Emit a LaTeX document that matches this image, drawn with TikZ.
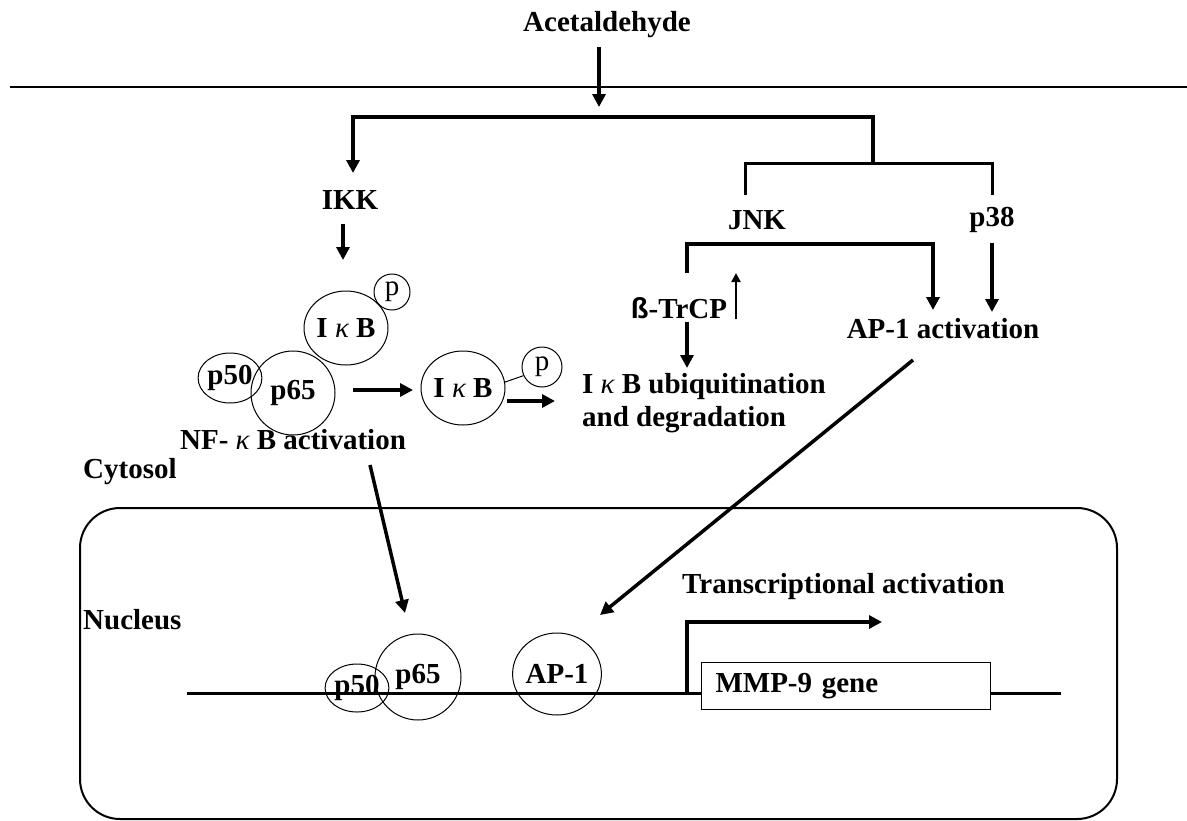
\documentclass[tikz,border=0pt]{standalone}
\usepackage{fontspec}
\setmainfont{Liberation Serif}
\newfontfamily\sansb{Liberation Sans}
\usetikzlibrary{arrows.meta,shapes.geometric}
\newcommand{\kap}{{\mdseries\itshape κ}}
\begin{document}
\begin{tikzpicture}[x=1pt,y=-1pt,
  font=\fontsize{29}{33}\selectfont\bfseries,
  every node/.style={inner sep=0pt},
  arr/.style={line width=3.5pt,-{Triangle[length=13pt,width=13pt]}},
  thinarr/.style={line width=2pt,-{Triangle[length=9pt,width=9pt]}},
  brk/.style={line width=3pt},
  circ/.style={draw,line width=1pt,ellipse,inner sep=0pt}]
\useasboundingbox (0,0) rectangle (1187,820);

% membrane
\draw[line width=1.7pt] (10,87) -- (1187,87);
% nucleus
\draw[line width=2pt,rounded corners=40pt] (80,508) rectangle (1117,819);

% labels
\node (acet) at (607,25) {Acetaldehyde};
\node (ikk) at (350,200) {IKK};
\node (jnk) at (757,220) {JNK};
\node (p38) at (992,220) {p38};
\node (btrcp) at (679,308) {{\sansb ß}-TrCP};
\node[anchor=west] (ubiq) at (582,387) {I \kap\ B ubiquitination};
\node[anchor=west] (ubiq2) at (582,420) {and degradation};
\node (apact) at (943,329) {AP-1 activation};
\node (nfkb) at (293,440) {NF- \kap\ B activation};
\node[anchor=west] (cyto) at (83,472) {Cytosol};
\node[anchor=west] (nucl) at (83,620) {Nucleus};
\node[anchor=west] (transc) at (682,587) {Transcriptional activation};

% cytosol complexes
\node[circ,minimum width=84pt,minimum height=74pt] (ikb1) at (346,328) {I \kap\ B};
\node[circ,minimum size=36pt,font=\fontsize{29}{33}\selectfont\mdseries] (p1) at (392,292) {p};
\node[circ,minimum size=50pt] (p50a) at (230,378) {p50};
\node[circ,minimum size=84pt] (p65a) at (293,393) {p65};
\node[circ,minimum width=84pt,minimum height=74pt] (ikb2) at (463,388) {I \kap\ B};
\node[circ,minimum size=40pt,font=\fontsize{29}{33}\selectfont\mdseries] (p2) at (542,367) {p};
\draw[line width=1pt] (ikb2.8) -- (p2.205);

% DNA and gene
\draw[line width=3pt] (187,693) -- (1061,693);
\node[draw,fill=white,line width=1pt,anchor=north west,minimum width=289pt,minimum height=47pt,
      text width=261pt,inner xsep=14pt,align=left] (gene) at (701,662) {MMP-9 gene};
\node[circ,minimum size=48pt] (p50n) at (357,688) {p50};
\node[circ,minimum size=86pt] (p65n) at (418,677) {p65};
\node[circ,minimum size=82pt] (ap1n) at (557,674) {AP-1};

% coordinates for connectors
\coordinate (a0) at (599,47);
\coordinate (a1) at (599,107);
\coordinate (bL) at (353,117);
\coordinate (bR) at (873,117);
\coordinate (bR2) at (873,163);
\coordinate (ikkIn) at (353,173);
\coordinate (jnkUp) at (745,195);
\coordinate (p38Up) at (992,195);
\coordinate (jnkL) at (687,273);
\coordinate (jnkLT) at (687,244);
\coordinate (jnkRT) at (933,244);
\coordinate (apIn) at (933,310);
\coordinate (p38out) at (992,243);
\coordinate (apIn2) at (992,312);
\coordinate (ikkOut) at (343,224);
\coordinate (ikbIn) at (343,260);
\coordinate (upA) at (736,319);
\coordinate (upB) at (736,273);
\coordinate (btOut) at (687,322);
\coordinate (ubIn) at (687,368);
\coordinate (apOut) at (913,360);
\coordinate (apNuc) at (600,615);
\coordinate (nfOut) at (370,465);
\coordinate (nfNuc) at (405,613);
\coordinate (c1) at (353,390);
\coordinate (c2) at (413,390);
\coordinate (c3) at (507,401);
\coordinate (c4) at (555,401);
\coordinate (pr0) at (687,693);
\coordinate (pr1) at (687,622);
\coordinate (pr2) at (882,622);

% connectors
\draw[arr] (a0) -- (a1);
\draw[arr] (bR2) -- (bR) -- (bL) -- (ikkIn);
\draw[brk] (jnkUp) -- (jnkUp |- bR2) -- (p38Up |- bR2) -- (p38Up);
\draw[arr] (jnkL) -- (jnkLT) -- (jnkRT) -- (apIn);
\draw[arr] (p38out) -- (apIn2);
\draw[arr] (ikkOut) -- (ikbIn);
\draw[thinarr] (upA) -- (upB);
\draw[arr] (btOut) -- (ubIn);
\draw[arr] (apOut) -- (apNuc);
\draw[arr] (nfOut) -- (nfNuc);
\draw[arr] (c1) -- (c2);
\draw[arr] (c3) -- (c4);
\draw[arr] (pr0) -- (pr1) -- (pr2);
\end{tikzpicture}
\end{document}
